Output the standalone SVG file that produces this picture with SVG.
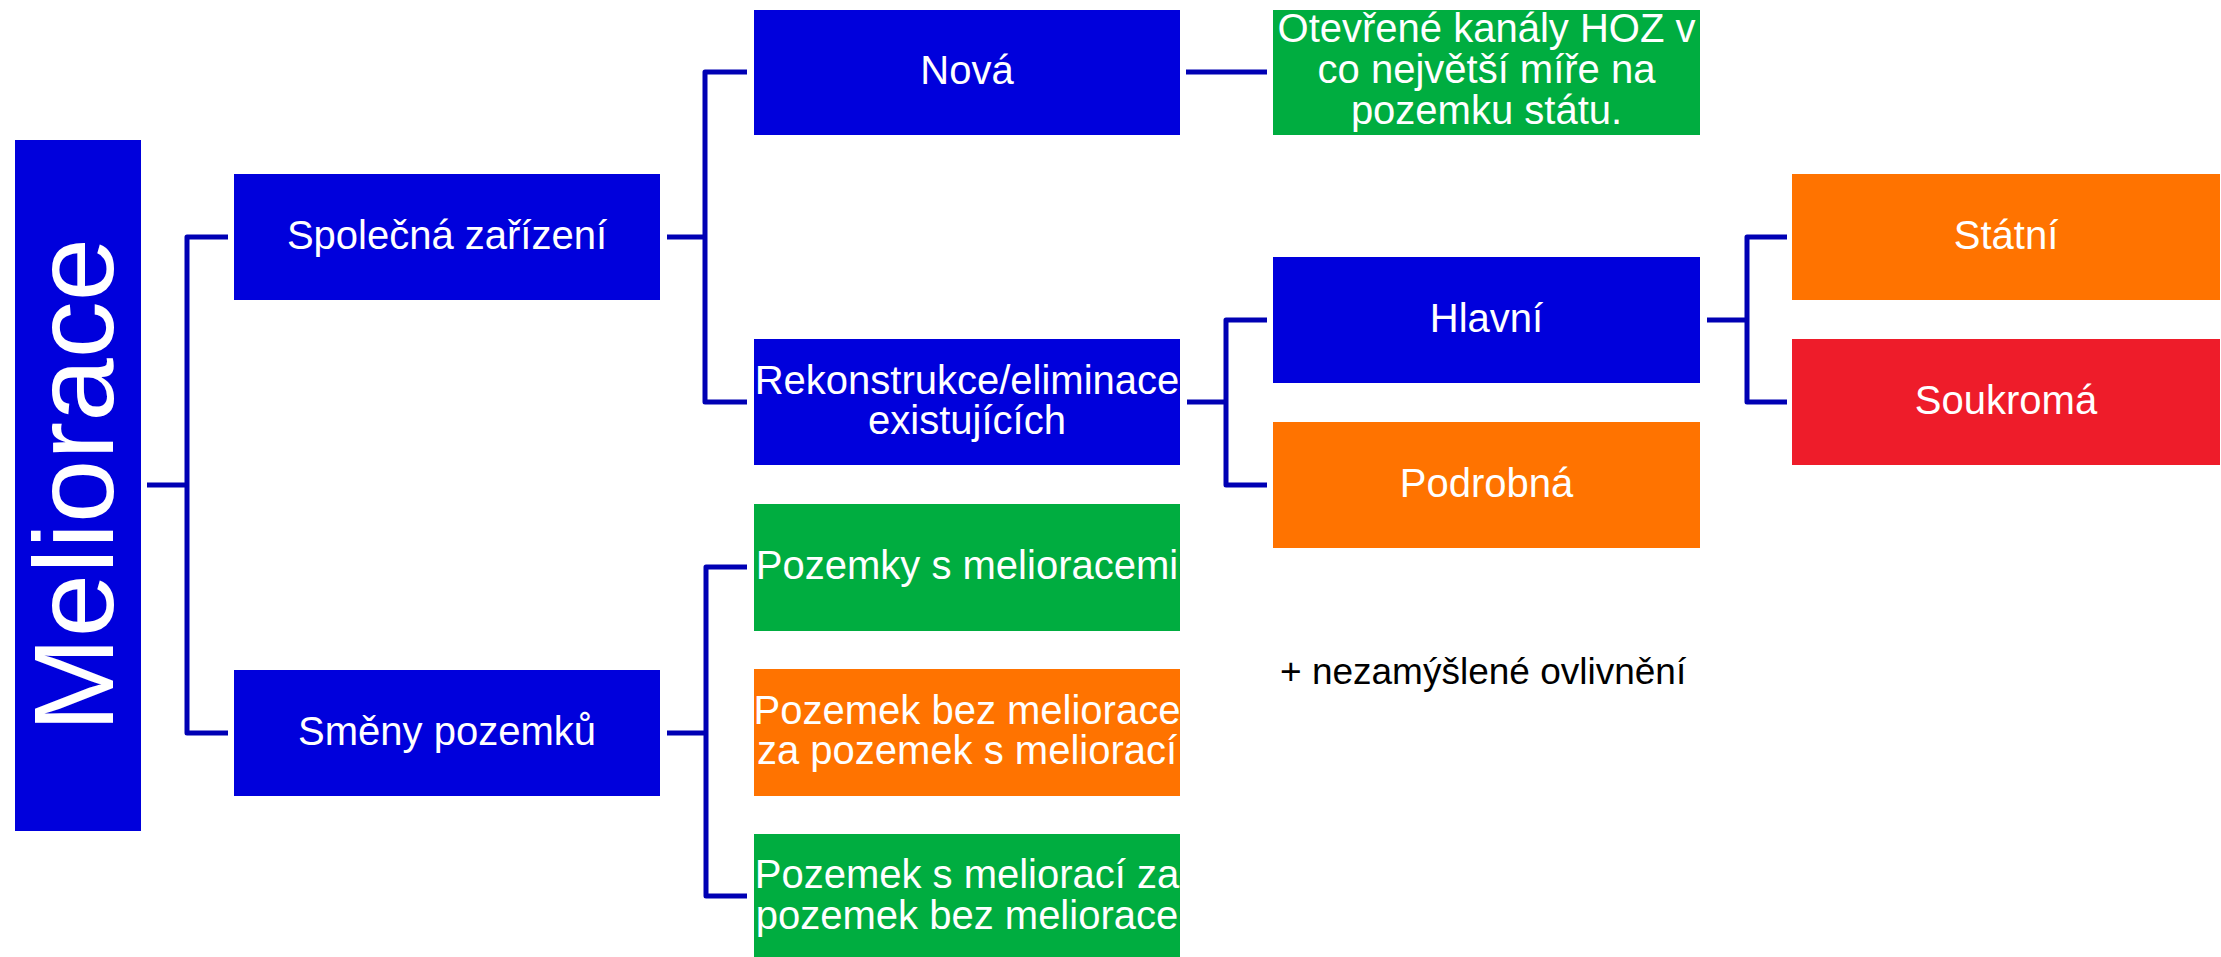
<svg xmlns="http://www.w3.org/2000/svg" width="2221" height="957" viewBox="0 0 2221 957">
<style>
.b{fill:#0000DC}.g{fill:#00AD40}.o{fill:#FF7300}.r{fill:#EE1C2A}
.t{font-family:"Liberation Sans",Arial,sans-serif;font-size:40px;fill:#fff;text-anchor:middle}
.c{fill:none;stroke:#0000B4;stroke-width:5;stroke-linejoin:round}
</style>
<rect width="2221" height="957" fill="#fff"/>
<g id="connectors">
<path class="c" d="M147,485 H187 M228,237 H187 V733 H228"/>
<path class="c" d="M667,237 H705 M747,72 H705 V402 H747"/>
<path class="c" d="M1186,72 H1267"/>
<path class="c" d="M1187,402 H1226 M1267,320 H1226 V485 H1267"/>
<path class="c" d="M1707,320 H1747 M1787,237 H1747 V402 H1787"/>
<path class="c" d="M667,733 H706 M747,567 H706 V896 H747"/>
</g>
<g id="meliorace"><rect class="b" x="15" y="140" width="126" height="691"/><text class="t" style="font-size:114px" transform="translate(113,485) rotate(-90)">Meliorace</text></g>
<g id="spolecna"><rect class="b" x="234" y="174" width="426" height="126"/><text class="t" x="447" y="249">Společná zařízení</text></g>
<g id="smeny"><rect class="b" x="234" y="670" width="426" height="126"/><text class="t" x="447" y="745">Směny pozemků</text></g>
<g id="nova"><rect class="b" x="754" y="10" width="426" height="125"/><text class="t" x="967" y="84">Nová</text></g>
<g id="hoz"><rect class="g" x="1273" y="10" width="427" height="125"/><text class="t" x="1486.5"><tspan x="1486.5" y="42">Otevřené kanály HOZ v</tspan><tspan x="1486.5" y="83">co největší míře na</tspan><tspan x="1486.5" y="124">pozemku státu.</tspan></text></g>
<g id="rekonstrukce"><rect class="b" x="754" y="339" width="426" height="126"/><text class="t"><tspan x="967" y="394">Rekonstrukce/eliminace</tspan><tspan x="967" y="434">existujících</tspan></text></g>
<g id="hlavni"><rect class="b" x="1273" y="257" width="427" height="126"/><text class="t" x="1486.5" y="332">Hlavní</text></g>
<g id="podrobna"><rect class="o" x="1273" y="422" width="427" height="126"/><text class="t" x="1486.5" y="497">Podrobná</text></g>
<g id="statni"><rect class="o" x="1792" y="174" width="428" height="126"/><text class="t" x="2006" y="249">Státní</text></g>
<g id="soukroma"><rect class="r" x="1792" y="339" width="428" height="126"/><text class="t" x="2006" y="414">Soukromá</text></g>
<g id="pozemky-s"><rect class="g" x="754" y="504" width="426" height="127"/><text class="t" x="967" y="579">Pozemky s melioracemi</text></g>
<g id="pozemek-bez"><rect class="o" x="754" y="669" width="426" height="127"/><text class="t"><tspan x="967" y="724">Pozemek bez meliorace</tspan><tspan x="967" y="764">za pozemek s meliorací</tspan></text></g>
<g id="pozemek-s"><rect class="g" x="754" y="834" width="426" height="123"/><text class="t"><tspan x="967" y="888">Pozemek s meliorací za</tspan><tspan x="967" y="929">pozemek bez meliorace</tspan></text></g>
<g id="poznamka"><text x="1280" y="684" style="font-family:'Liberation Sans',Arial,sans-serif;font-size:37px;fill:#000">+ nezamýšlené ovlivnění</text></g>
</svg>
